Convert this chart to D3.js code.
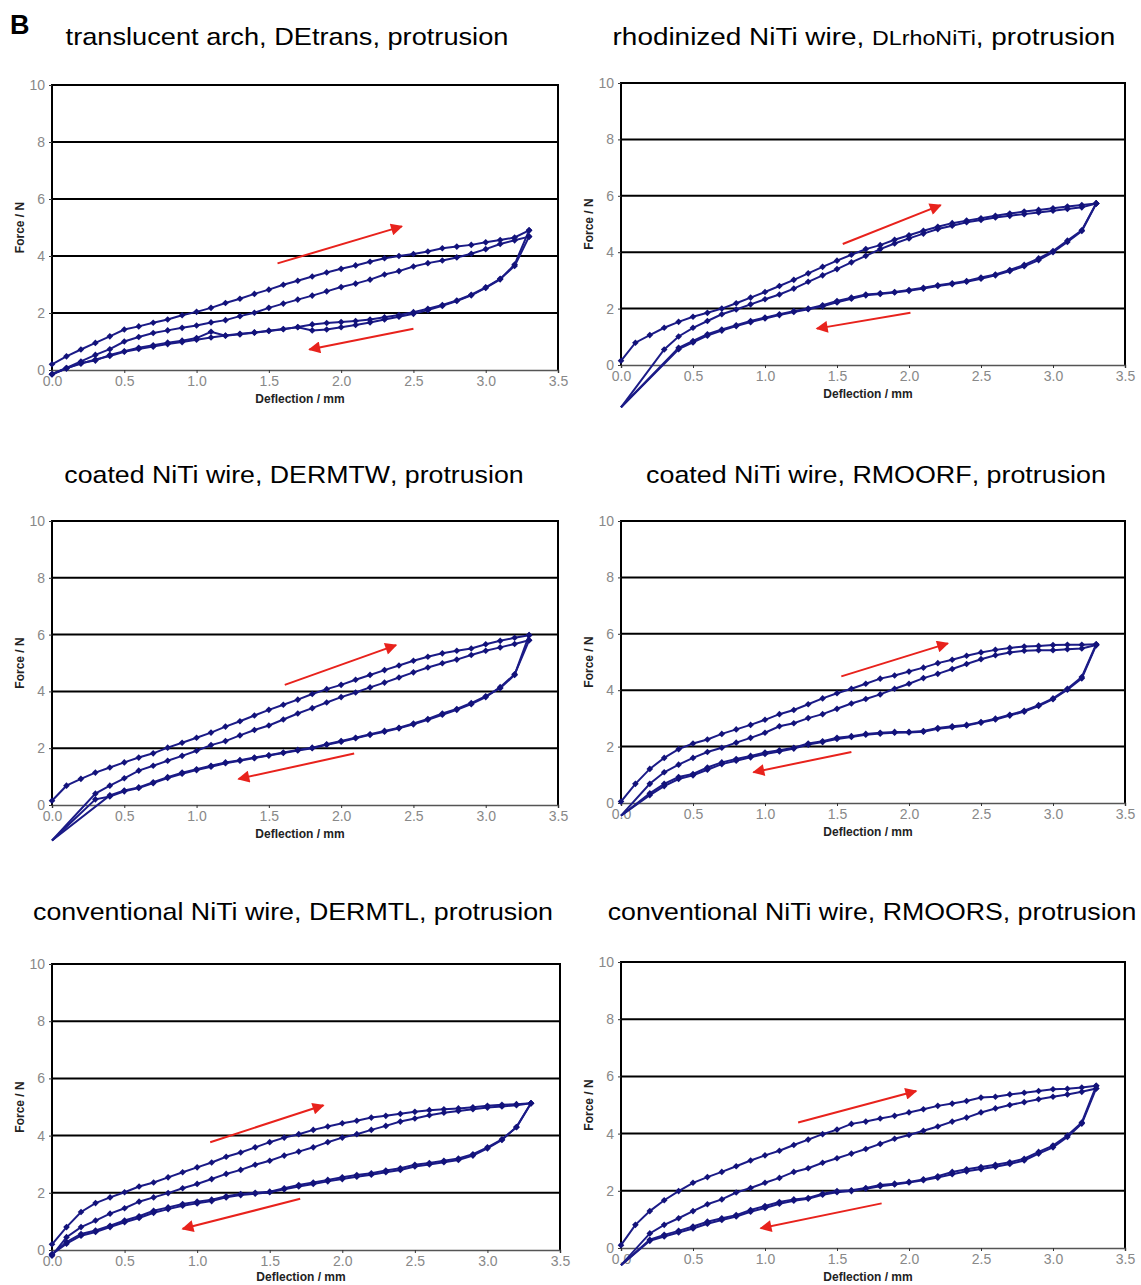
<!DOCTYPE html>
<html lang="en">
<head>
<meta charset="UTF-8">
<title>Force / deflection, protrusion</title>
<script src="https://cdn.jsdelivr.net/npm/d3@7"></script>
<style>
  body { margin: 0; background: #fff; }
  text { font-family: "Liberation Sans", Arial, sans-serif; }
</style>
</head>
<body>
<script>

// deflection steps (mm), shared by every curve
var deflection = [0, 0.1, 0.2, 0.3, 0.4, 0.5, 0.6, 0.7, 0.8, 0.9, 1.0, 1.1, 1.2, 1.3, 1.4, 1.5, 1.6,
                  1.7, 1.8, 1.9, 2.0, 2.1, 2.2, 2.3, 2.4, 2.5, 2.6, 2.7, 2.8, 2.9, 3.0, 3.1, 3.2, 3.3];
var xTicks = [0, 0.5, 1.0, 1.5, 2.0, 2.5, 3.0, 3.5];
var yTicks = [0, 2, 4, 6, 8, 10];

var titleLead = ["translucent arch, ", "rhodinized NiTi wire, ", "coated NiTi wire, ",
                 "coated NiTi wire, ", "conventional NiTi wire, ", "conventional NiTi wire, "];
var titleCode = ["DEtrans", "DLrhoNiTi", "DERMTW", "RMOORF", "DERMTL", "RMOORS"];
var titleTail = ", protrusion";

// force (N) per deflection step, null = no reading
var transLoad1   = [0.2,0.48,0.72,0.95,1.18,1.42,1.53,1.66,1.77,1.92,2.04,2.18,2.35,2.5,2.67,2.82,2.99,3.13,3.28,3.42,3.55,3.67,3.8,3.92,4.0,4.07,4.16,4.27,4.33,4.39,4.48,4.56,4.65,4.9];
var transLoad2   = [-0.15,0.07,0.3,0.53,0.73,1.0,1.16,1.3,1.39,1.48,1.56,1.67,1.75,1.89,2.01,2.18,2.33,2.47,2.61,2.76,2.91,3.03,3.17,3.35,3.47,3.63,3.75,3.84,3.95,4.08,4.24,4.42,4.55,4.68];
var transUnload1 = [-0.15,0.05,0.25,0.33,0.53,0.66,0.78,0.87,0.96,1.03,1.12,1.34,1.2,1.25,1.31,1.37,1.43,1.51,1.6,1.65,1.68,1.72,1.77,1.85,1.93,2.03,2.15,2.28,2.44,2.64,2.9,3.2,3.65,4.68];
var transUnload2 = [-0.15,0.07,0.22,0.37,0.49,0.64,0.74,0.82,0.91,0.98,1.06,1.14,1.21,1.27,1.32,1.38,1.44,1.5,1.39,1.42,1.5,1.58,1.67,1.77,1.87,1.97,2.1,2.25,2.42,2.62,2.88,3.18,3.7,4.9];

var rhoLoad1   = [0.15,0.79,1.06,1.32,1.53,1.71,1.85,2.0,2.19,2.39,2.59,2.8,3.02,3.25,3.48,3.7,3.91,4.11,4.25,4.44,4.6,4.76,4.9,5.03,5.12,5.2,5.29,5.37,5.44,5.5,5.56,5.62,5.67,5.73];
var rhoLoad2   = [-1.5,null,null,0.55,1.01,1.32,1.56,1.8,1.97,2.15,2.33,2.5,2.71,2.95,3.18,3.4,3.64,3.87,4.11,4.31,4.49,4.66,4.82,4.94,5.06,5.14,5.23,5.29,5.35,5.41,5.47,5.53,5.59,5.73];
var rhoUnload1 = [-1.5,null,null,null,0.61,0.85,1.09,1.26,1.41,1.56,1.68,1.8,1.91,2.0,2.12,2.27,2.39,2.5,2.54,2.59,2.66,2.74,2.83,2.9,2.98,3.1,3.21,3.37,3.55,3.78,4.04,4.41,4.78,5.73];
var rhoUnload2 = [-1.5,null,null,null,0.56,0.8,1.04,1.22,1.38,1.52,1.65,1.77,1.88,1.98,2.08,2.22,2.35,2.47,2.52,2.57,2.63,2.71,2.8,2.87,2.95,3.06,3.18,3.33,3.5,3.72,4.0,4.36,4.75,5.73];

var rmtwLoad1   = [0.15,0.68,0.92,1.14,1.32,1.5,1.67,1.82,2.02,2.19,2.37,2.55,2.76,2.95,3.15,3.35,3.53,3.71,3.91,4.08,4.23,4.41,4.58,4.75,4.91,5.08,5.22,5.34,5.43,5.51,5.66,5.78,5.89,5.98];
var rmtwLoad2   = [-1.25,null,null,0.4,0.68,0.94,1.21,1.38,1.56,1.73,1.91,2.11,2.25,2.45,2.64,2.8,3.01,3.22,3.41,3.61,3.8,3.96,4.14,4.31,4.49,4.67,4.84,4.99,5.12,5.28,5.43,5.55,5.67,5.8];
var rmtwUnload1 = [-1.25,null,null,null,0.34,0.51,0.62,0.8,0.98,1.14,1.26,1.38,1.5,1.58,1.67,1.75,1.85,1.94,2.02,2.14,2.25,2.37,2.49,2.61,2.72,2.87,3.03,3.22,3.38,3.59,3.83,4.11,4.58,5.98];
var rmtwUnload2 = [-1.25,null,null,0.2,0.3,0.48,0.6,0.77,0.95,1.1,1.23,1.35,1.47,1.56,1.65,1.74,1.83,1.92,2.0,2.12,2.23,2.35,2.47,2.58,2.7,2.84,3.0,3.18,3.35,3.55,3.8,4.15,4.6,5.8];

var orfLoad1   = [0.05,0.68,1.21,1.6,1.91,2.11,2.25,2.45,2.61,2.77,2.95,3.15,3.3,3.5,3.71,3.89,4.05,4.23,4.41,4.52,4.66,4.8,4.96,5.08,5.22,5.34,5.43,5.5,5.55,5.57,5.6,5.61,5.61,5.63];
var orfLoad2   = [-0.45,null,0.68,1.09,1.36,1.6,1.81,1.96,2.14,2.31,2.49,2.72,2.83,3.01,3.15,3.34,3.53,3.69,3.85,4.05,4.23,4.43,4.58,4.75,4.93,5.1,5.24,5.34,5.4,5.42,5.42,5.45,5.48,5.6];
var orfUnload1 = [-0.45,null,0.34,0.68,0.92,1.03,1.26,1.44,1.56,1.67,1.79,1.87,1.96,2.11,2.19,2.31,2.37,2.45,2.49,2.52,2.52,2.55,2.66,2.72,2.77,2.87,2.99,3.13,3.27,3.47,3.71,4.05,4.47,5.63];
var orfUnload2 = [-0.45,null,0.28,0.6,0.85,0.98,1.18,1.38,1.5,1.62,1.74,1.83,1.93,2.07,2.16,2.27,2.34,2.42,2.46,2.49,2.5,2.53,2.63,2.69,2.75,2.85,2.96,3.1,3.24,3.44,3.68,4.02,4.42,5.6];

var dtlLoad1   = [0.2,0.8,1.33,1.64,1.84,2.02,2.22,2.36,2.54,2.72,2.89,3.06,3.26,3.41,3.59,3.77,3.93,4.05,4.2,4.32,4.43,4.52,4.63,4.69,4.76,4.83,4.89,4.92,4.95,4.99,5.04,5.08,5.1,5.13];
var dtlLoad2   = [-0.2,0.45,0.8,1.03,1.27,1.46,1.69,1.84,1.99,2.16,2.31,2.48,2.66,2.8,2.98,3.12,3.3,3.44,3.59,3.77,3.93,4.05,4.2,4.34,4.49,4.6,4.71,4.8,4.86,4.92,4.98,5.02,5.06,5.13];
var dtlUnload1 = [-0.15,0.28,0.56,0.68,0.85,1.03,1.18,1.37,1.49,1.61,1.69,1.76,1.88,1.96,2.0,2.04,2.16,2.27,2.36,2.45,2.54,2.62,2.68,2.78,2.86,2.98,3.04,3.12,3.2,3.35,3.59,3.87,4.29,5.13];
var dtlUnload2 = [-0.15,0.22,0.5,0.63,0.8,0.97,1.12,1.3,1.43,1.55,1.63,1.71,1.84,1.92,1.97,2.02,2.12,2.22,2.31,2.4,2.48,2.56,2.63,2.72,2.8,2.92,2.99,3.07,3.15,3.3,3.55,3.85,4.3,5.13];

var rmsLoad1   = [0.1,0.81,1.29,1.67,1.99,2.28,2.48,2.66,2.86,3.06,3.24,3.4,3.6,3.79,3.98,4.14,4.34,4.42,4.53,4.62,4.74,4.85,4.97,5.05,5.14,5.26,5.29,5.37,5.43,5.49,5.55,5.57,5.61,5.67];
var rmsLoad2   = [-0.6,null,0.51,0.81,1.04,1.29,1.53,1.7,1.94,2.1,2.28,2.45,2.66,2.79,2.98,3.14,3.3,3.46,3.64,3.82,3.95,4.1,4.25,4.42,4.56,4.74,4.88,5.0,5.1,5.2,5.29,5.37,5.46,5.58];
var rmsUnload1 = [-0.6,null,0.29,0.46,0.6,0.75,0.92,1.04,1.15,1.33,1.47,1.61,1.7,1.75,1.9,1.99,2.02,2.1,2.2,2.25,2.31,2.4,2.51,2.66,2.75,2.83,2.91,3.0,3.12,3.36,3.58,3.93,4.39,5.67];
var rmsUnload2 = [-0.6,null,0.25,0.4,0.54,0.68,0.85,0.98,1.1,1.27,1.4,1.55,1.65,1.72,1.86,1.95,1.99,2.07,2.16,2.22,2.29,2.37,2.46,2.58,2.68,2.76,2.84,2.94,3.06,3.3,3.52,3.88,4.35,5.58];

// red direction arrows [x1, y1, x2, y2] in data units
var transArrows = [[1.56, 3.74, 2.42, 5.04], [2.5, 1.45, 1.78, 0.72]];
var rhoArrows   = [[1.54, 4.29, 2.22, 5.67], [2.01, 1.85, 1.36, 1.29]];
var rmtwArrows  = [[1.61, 4.23, 2.38, 5.63], [2.09, 1.81, 1.29, 0.92]];
var orfArrows   = [[1.53, 4.49, 2.27, 5.66], [1.6, 1.81, 0.92, 1.09]];
var dtlArrows   = [[1.09, 3.77, 1.87, 5.06], [1.71, 1.79, 0.9, 0.74]];
var rmsArrows   = [[1.23, 4.39, 2.05, 5.49], [1.81, 1.56, 0.97, 0.69]];

var curves = [
    [transLoad1, transLoad2, transUnload1, transUnload2],
    [rhoLoad1, rhoLoad2, rhoUnload1, rhoUnload2],
    [rmtwLoad1, rmtwLoad2, rmtwUnload1, rmtwUnload2],
    [orfLoad1, orfLoad2, orfUnload1, orfUnload2],
    [dtlLoad1, dtlLoad2, dtlUnload1, dtlUnload2],
    [rmsLoad1, rmsLoad2, rmsUnload1, rmsUnload2]
];
var arrows = [transArrows, rhoArrows, rmtwArrows, orfArrows, dtlArrows, rmsArrows];

// panel boxes in page pixels
var layout = [
    {left: 52,  right: 558,  top: 85,  bottom: 370,  tx: 287, ty: 45,  tw: 443},
    {left: 621, right: 1125, top: 83,  bottom: 365,  tx: 864, ty: 45,  tw: 503},
    {left: 52,  right: 558,  top: 521, bottom: 805,  tx: 294, ty: 483, tw: 458},
    {left: 621, right: 1125, top: 521, bottom: 803,  tx: 876, ty: 483, tw: 457},
    {left: 52,  right: 560,  top: 964, bottom: 1250, tx: 293, ty: 920, tw: 520},
    {left: 621, right: 1125, top: 962, bottom: 1248, tx: 872, ty: 920, tw: 529}
];

var navy = "#1b1b87";
var red = "#e8221c";

var svg = d3.select("body")
        .append("svg")
        .attr("width", 1141)
        .attr("height", 1285);

svg.append("defs").append("marker")
        .attr("id", "head")
        .attr("viewBox", "0 0 10 10")
        .attr("refX", 9).attr("refY", 5)
        .attr("markerUnits", "userSpaceOnUse")
        .attr("markerWidth", 15).attr("markerHeight", 12)
        .attr("orient", "auto")
        .append("path")
        .attr("d", "M0,0 L10,5 L0,10 Z")
        .attr("fill", red);

svg.append("text")
        .attr("x", 10).attr("y", 34)
        .attr("font-size", 27).attr("font-weight", "bold")
        .text("B");

var diamond = d3.symbol().type(d3.symbolDiamond2 || d3.symbolDiamond).size(28);

layout.forEach(function(p, i) {
    var x = d3.scaleLinear().domain([0, 3.5]).range([p.left, p.right]);
    var y = d3.scaleLinear().domain([0, 10]).range([p.bottom, p.top]);
    var g = svg.append("g");

    // title
    var t = g.append("text")
            .attr("x", p.tx).attr("y", p.ty)
            .attr("text-anchor", "middle")
            .attr("font-size", 24)
            .style("white-space", "pre");
    t.append("tspan").text(titleLead[i]);
    t.append("tspan").attr("font-size", i == 1 ? 20 : 24).text(titleCode[i]);
    t.append("tspan").text(titleTail);
    var w = t.node().getComputedTextLength();
    t.attr("transform", "translate(" + p.tx + ",0) scale(" + (p.tw / w) + ",1) translate(" + (-p.tx) + ",0)");

    // grid lines and frame
    g.selectAll(".grid")
            .data(yTicks.filter(function(d) { return d > 0; }))
            .enter().append("line")
            .attr("x1", p.left).attr("x2", p.right)
            .attr("y1", function(d) { return y(d); })
            .attr("y2", function(d) { return y(d); })
            .attr("stroke", "#000").attr("stroke-width", 2);
    [p.left, p.right].forEach(function(xx) {
        g.append("line")
                .attr("x1", xx).attr("x2", xx)
                .attr("y1", p.top - 1).attr("y2", p.bottom)
                .attr("stroke", "#000").attr("stroke-width", 2);
    });

    var xAxis = g.append("g")
            .attr("transform", "translate(0," + p.bottom + ")")
            .call(d3.axisBottom(x).tickValues(xTicks).tickFormat(d3.format(".1f"))
                    .tickSize(3).tickPadding(3));
    xAxis.select(".domain").attr("stroke", "#555").attr("stroke-width", 1.5);

    var yAxis = g.append("g")
            .attr("transform", "translate(" + p.left + ",0)")
            .call(d3.axisLeft(y).tickValues(yTicks).tickSize(3).tickPadding(4));
    yAxis.select(".domain").remove();

    g.selectAll(".tick text")
            .attr("font-family", "'Liberation Sans', Arial, sans-serif")
            .attr("font-size", 14)
            .attr("fill", "#888");
    g.selectAll(".tick line").attr("stroke", "#333");

    g.append("text")
            .attr("x", (p.left + p.right) / 2 - 5).attr("y", Math.min(p.bottom + 33, 1281))
            .attr("text-anchor", "middle")
            .attr("font-size", 12).attr("font-weight", "bold").attr("fill", "#222")
            .text("Deflection / mm");
    g.append("text")
            .attr("transform", "translate(" + (p.left - 28) + "," + ((p.top + p.bottom) / 2) + ") rotate(-90)")
            .attr("text-anchor", "middle")
            .attr("font-size", 12).attr("font-weight", "bold").attr("fill", "#222")
            .text("Force / N");

    // curves
    var line = d3.line()
            .x(function(d) { return x(d[0]); })
            .y(function(d) { return y(d[1]); });

    curves[i].slice().reverse().forEach(function(vals) {
        var pts = [];
        vals.forEach(function(v, k) { if (v !== null) pts.push([deflection[k], v]); });
        g.append("path")
                .attr("d", line(pts))
                .attr("fill", "none")
                .attr("stroke", navy)
                .attr("stroke-width", 2);
        g.selectAll(null)
                .data(pts.filter(function(d) { return d[1] > -0.4; }))
                .enter().append("path")
                .attr("d", diamond)
                .attr("transform", function(d) { return "translate(" + x(d[0]) + "," + y(d[1]) + ")"; })
                .attr("fill", "#12127a");
    });

    // arrows
    g.selectAll(".arrow")
            .data(arrows[i])
            .enter().append("line")
            .attr("x1", function(d) { return x(d[0]); })
            .attr("y1", function(d) { return y(d[1]); })
            .attr("x2", function(d) { return x(d[2]); })
            .attr("y2", function(d) { return y(d[3]); })
            .attr("stroke", red).attr("stroke-width", 2)
            .attr("marker-end", "url(#head)");
});

</script>
</body>
</html>
